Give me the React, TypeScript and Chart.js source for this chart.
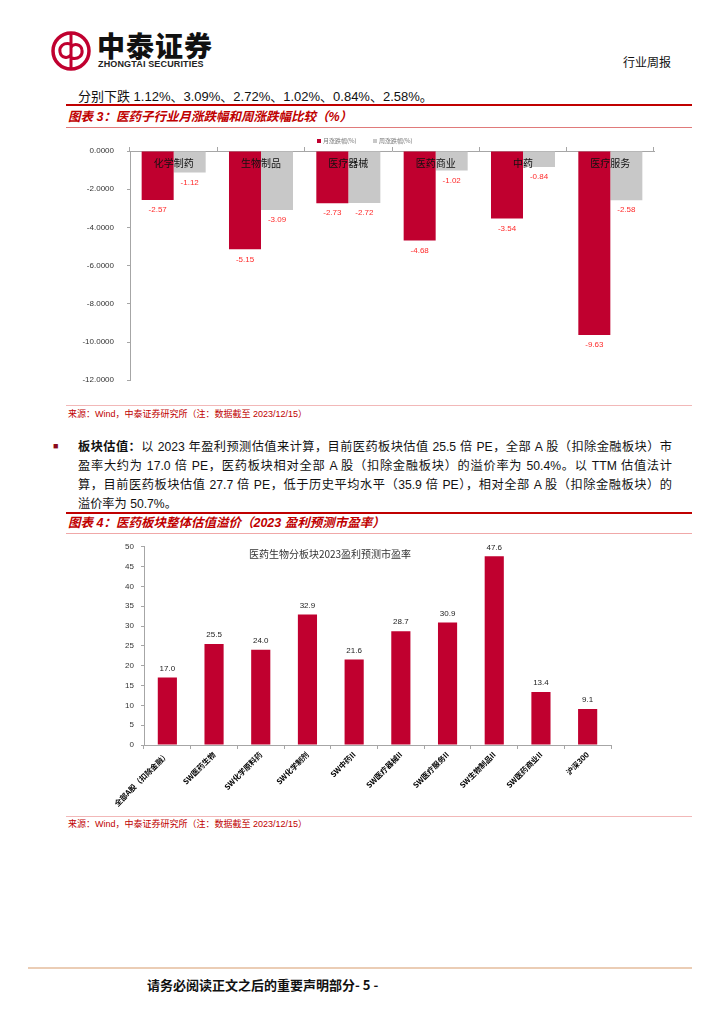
import React, { useEffect, useRef } from "react";
import { Chart, registerables } from "chart.js";

Chart.register(...registerables);

// ---------- data ----------
const categories1 = ["化学制药", "生物制品", "医疗器械", "医药商业", "中药", "医疗服务"];
const monthlyChange = [-2.57, -5.15, -2.73, -4.68, -3.54, -9.63];
const weeklyChange = [-1.12, -3.09, -2.72, -1.02, -0.84, -2.58];
const seriesNames1 = ["月涨跌幅(%)", "周涨跌幅(%)"];
const yMin1 = -12;
const yMax1 = 0;
const yStep1 = 2;

const categories2 = [
  "全部A股（扣除金融）",
  "SW医药生物",
  "SW化学原料药",
  "SW化学制剂",
  "SW中药II",
  "SW医疗器械II",
  "SW医疗服务II",
  "SW生物制品II",
  "SW医药商业II",
  "沪深300",
];
const peValues = [17.0, 25.5, 24.0, 32.9, 21.6, 28.7, 30.9, 47.6, 13.4, 9.1];
const chartTitle2 = "医药生物分板块2023盈利预测市盈率";
const yMin2 = 0;
const yMax2 = 50;
const yStep2 = 5;

// ---------- styles ----------
const SANS = "'Liberation Sans', Arial, 'Noto Sans CJK SC', sans-serif";
const CJK = "'Noto Sans CJK SC', 'Liberation Sans', sans-serif";
const RED = "#C0002F";
const GRAY = "#C8C8C8";
const AXIS = "#A6A6A6";
const DARKRED = "#C00000";

function ChartOne() {
  const ref = useRef<HTMLCanvasElement>(null);
  useEffect(() => {
    if (!ref.current) return;
    const overlay = {
      id: "c1overlay",
      afterDatasetsDraw(chart: any) {
        const { ctx, scales, chartArea } = chart;
        const x = scales.x;
        const y = scales.y;
        ctx.save();
        const y0 = y.getPixelForValue(0);
        ctx.textAlign = "center";
        ctx.textBaseline = "middle";
        // category labels near zero line
        ctx.font = `10px ${CJK}`;
        ctx.fillStyle = "#111";
        (chart.data.labels as string[]).forEach((l, i) => {
          ctx.fillText(l, x.getPixelForValue(i), y0 + 12);
        });
        // value labels
        ctx.font = `8px ${SANS}`;
        ctx.fillStyle = "#FF2A2A";
        chart.data.datasets.forEach((ds: any, di: number) => {
          chart.getDatasetMeta(di).data.forEach((el: any, i: number) => {
            const v = ds.data[i] as number;
            ctx.fillText(v.toFixed(2), el.x, el.y + 10);
          });
        });
        // legend
        const ly = chartArea.top - 10;
        const lx = chartArea.left;
        ctx.textAlign = "left";
        ctx.font = `6px ${CJK}`;
        const items = [
          { name: seriesNames1[0], color: RED, off: 187 },
          { name: seriesNames1[1], color: GRAY, off: 243 },
        ];
        items.forEach((it) => {
          ctx.fillStyle = it.color;
          ctx.fillRect(lx + it.off, ly - 2, 4, 4);
          ctx.fillStyle = "#777";
          ctx.fillText(it.name, lx + it.off + 6, ly);
        });
        ctx.restore();
      },
    };
    const chart = new Chart(ref.current, {
      type: "bar",
      data: {
        labels: categories1,
        datasets: [
          { label: seriesNames1[0], data: monthlyChange, backgroundColor: RED, categoryPercentage: 0.733, barPercentage: 1 },
          { label: seriesNames1[1], data: weeklyChange, backgroundColor: GRAY, categoryPercentage: 0.733, barPercentage: 1 },
        ],
      },
      options: {
        responsive: false,
        animation: false,
        layout: { padding: { top: 19, right: 46, bottom: 12, left: 0 } },
        plugins: { legend: { display: false }, tooltip: { enabled: false } },
        scales: {
          x: {
            position: "top",
            offset: true,
            grid: { display: true, drawOnChartArea: false, drawTicks: true, tickLength: 4, offset: true, color: AXIS },
            border: { display: true, color: AXIS },
            ticks: { display: false },
            afterFit: (s: any) => {
              s.height = 4;
            },
          },
          y: {
            min: yMin1,
            max: yMax1,
            ticks: {
              stepSize: yStep1,
              callback: (v: any) => Number(v).toFixed(4),
              font: { size: 8, family: SANS },
              color: "#333",
              padding: 13,
            },
            grid: { drawOnChartArea: false, tickLength: 3, color: AXIS },
            border: { color: AXIS },
            afterFit: (s: any) => {
              s.width = 70;
            },
          },
        },
      },
      plugins: [overlay],
    });
    return () => chart.destroy();
  }, []);
  return (
    <canvas
      ref={ref}
      width={640}
      height={270}
      style={{ position: "absolute", left: 60, top: 128, width: 640, height: 270 }}
    />
  );
}

function ChartTwo() {
  const ref = useRef<HTMLCanvasElement>(null);
  useEffect(() => {
    if (!ref.current) return;
    const overlay = {
      id: "c2overlay",
      afterDatasetsDraw(chart: any) {
        const { ctx, chartArea } = chart;
        ctx.save();
        ctx.textAlign = "center";
        ctx.textBaseline = "middle";
        ctx.font = `8px ${SANS}`;
        ctx.fillStyle = "#222";
        const ds = chart.data.datasets[0];
        chart.getDatasetMeta(0).data.forEach((el: any, i: number) => {
          ctx.fillText((ds.data[i] as number).toFixed(1), el.x, el.y - 9);
        });
        ctx.font = `10px ${CJK}`;
        ctx.fillStyle = "#333";
        ctx.fillText(chartTitle2, chartArea.left + 186, chartArea.top + 7);
        ctx.restore();
      },
    };
    const chart = new Chart(ref.current, {
      type: "bar",
      data: {
        labels: categories2,
        datasets: [
          { label: chartTitle2, data: peValues, backgroundColor: RED, categoryPercentage: 0.41, barPercentage: 1 },
        ],
      },
      options: {
        responsive: false,
        animation: false,
        layout: { padding: { top: 9, right: 89, bottom: 5, left: 0 } },
        plugins: { legend: { display: false }, tooltip: { enabled: false } },
        scales: {
          x: {
            offset: true,
            grid: { display: true, drawOnChartArea: false, drawTicks: true, tickLength: 4, offset: true, color: AXIS },
            border: { display: true, color: AXIS },
            ticks: {
              minRotation: 45,
              maxRotation: 45,
              autoSkip: false,
              font: { size: 7.6, family: CJK, weight: "bold" },
              color: "#000",
              padding: 1,
            },
            afterFit: (s: any) => {
              s.height = 65;
            },
          },
          y: {
            min: yMin2,
            max: yMax2,
            ticks: {
              stepSize: yStep2,
              font: { size: 8, family: SANS },
              color: "#333",
              padding: 7,
            },
            grid: { drawOnChartArea: false, tickLength: 3, color: AXIS },
            border: { color: AXIS },
            afterFit: (s: any) => {
              s.width = 84;
            },
          },
        },
      },
      plugins: [overlay],
    });
    return () => chart.destroy();
  }, []);
  return (
    <canvas
      ref={ref}
      width={640}
      height={280}
      style={{ position: "absolute", left: 60, top: 535, width: 640, height: 280 }}
    />
  );
}

function Txt(props: { x: number; y: number; size: number; children: any; style?: any }) {
  return (
    <div
      style={{
        position: "absolute",
        left: props.x,
        top: props.y - props.size * 0.75,
        fontSize: props.size,
        lineHeight: `${props.size * 1.5}px`,
        whiteSpace: "nowrap",
        ...(props.style || {}),
      }}
    >
      {props.children}
    </div>
  );
}

function Line(props: { x1: number; x2: number; y: number; h: number; color: string }) {
  return (
    <div
      style={{
        position: "absolute",
        left: props.x1,
        top: props.y - props.h / 2,
        width: props.x2 - props.x1,
        height: props.h,
        background: props.color,
      }}
    />
  );
}

const paraLines = [
  "以 2023 年盈利预测估值来计算，目前医药板块估值 25.5 倍 PE，全部 A 股（扣除金融板块）市",
  "盈率大约为 17.0 倍 PE，医药板块相对全部 A 股（扣除金融板块）的溢价率为 50.4%。以 TTM 估值法计",
  "算，目前医药板块估值 27.7 倍 PE，低于历史平均水平（35.9 倍 PE），相对全部 A 股（扣除金融板块）的",
  "溢价率为 50.7%。",
];

export default function App() {
  const titleStyle = { color: DARKRED, fontWeight: "bold", fontStyle: "italic" };
  return (
    <div
      style={{
        position: "absolute",
        left: 0,
        top: 0,
        width: 724,
        height: 1024,
        background: "#fff",
        fontFamily: SANS,
        color: "#111",
        overflow: "hidden",
      }}
    >
      {/* logo */}
      <svg style={{ position: "absolute", left: 50, top: 30 }} width={44} height={44} viewBox="0 0 44 44">
        <circle cx={21} cy={21} r={18} fill="none" stroke={RED} strokeWidth={3.5} />
        <line x1={21} y1={4} x2={21} y2={38} stroke={RED} strokeWidth={3} />
        <path d="M21 14 C13 12 9 17 10 22 C11 28 18 29 21 25" fill="none" stroke={RED} strokeWidth={3} />
        <path d="M21 28 C29 30 33 25 32 20 C31 14 24 13 21 17" fill="none" stroke={RED} strokeWidth={3} />
      </svg>
      <div
        style={{
          position: "absolute",
          left: 97,
          top: 29,
          fontSize: 28,
          lineHeight: "32px",
          fontWeight: 900,
          fontFamily: CJK,
          letterSpacing: 1,
          color: "#111",
        }}
      >
        中泰证券
      </div>
      <div
        style={{
          position: "absolute",
          left: 98,
          top: 59,
          fontSize: 9,
          lineHeight: "10px",
          fontWeight: "bold",
          fontFamily: SANS,
          color: "#222",
          letterSpacing: 0.15,
        }}
      >
        ZHONGTAI SECURITIES
      </div>
      <Txt x={623} y={62} size={12} style={{ fontFamily: CJK }}>
        行业周报
      </Txt>

      <Txt x={78} y={97} size={13} style={{ fontFamily: SANS }}>
        分别下跌 1.12%、3.09%、2.72%、1.02%、0.84%、2.58%。
      </Txt>
      <Line x1={66} x2={692} y={104.5} h={2} color={DARKRED} />
      <Txt x={68} y={117} size={12.5} style={titleStyle}>
        图表 3：医药子行业月涨跌幅和周涨跌幅比较（%）
      </Txt>
      <Line x1={66} x2={692} y={127} h={1} color="#E07A7A" />

      <ChartOne />

      <Line x1={66} x2={692} y={405} h={1} color="#F2B8B8" />
      <Txt x={68} y={415} size={9} style={{ color: DARKRED }}>
        来源：Wind，中泰证券研究所（注：数据截至 2023/12/15）
      </Txt>

      {/* paragraph */}
      <div style={{ position: "absolute", left: 53, top: 441, fontSize: 9, color: "#8B0A1A" }}>■</div>
      {paraLines.map((l, i) => (
        <div
          key={i}
          style={{
            position: "absolute",
            left: 78,
            top: 438 + i * 19,
            width: 594,
            fontSize: 12.2,
            lineHeight: "19px",
            textAlign: "justify",
            textAlignLast: i < paraLines.length - 1 ? "justify" : "left",
            whiteSpace: "normal",
          } as any}
        >
          {i === 0 ? <b>板块估值：</b> : null}
          {l}
        </div>
      ))}

      <Line x1={66} x2={692} y={512.5} h={2} color={DARKRED} />
      <Txt x={68} y={523} size={12.5} style={titleStyle}>
        图表 4：医药板块整体估值溢价（2023 盈利预测市盈率）
      </Txt>
      <Line x1={66} x2={692} y={533} h={1} color="#F0A8A8" />

      <ChartTwo />

      <Line x1={66} x2={692} y={816} h={1} color="#F2B8B8" />
      <Txt x={68} y={825} size={9} style={{ color: DARKRED }}>
        来源：Wind，中泰证券研究所（注：数据截至 2023/12/15）
      </Txt>

      <Line x1={28} x2={692} y={968} h={2} color="#EBCDB5" />
      <Txt x={147} y={985} size={13} style={{ fontWeight: "bold", fontFamily: CJK }}>
        请务必阅读正文之后的重要声明部分- 5 -
      </Txt>
    </div>
  );
}
